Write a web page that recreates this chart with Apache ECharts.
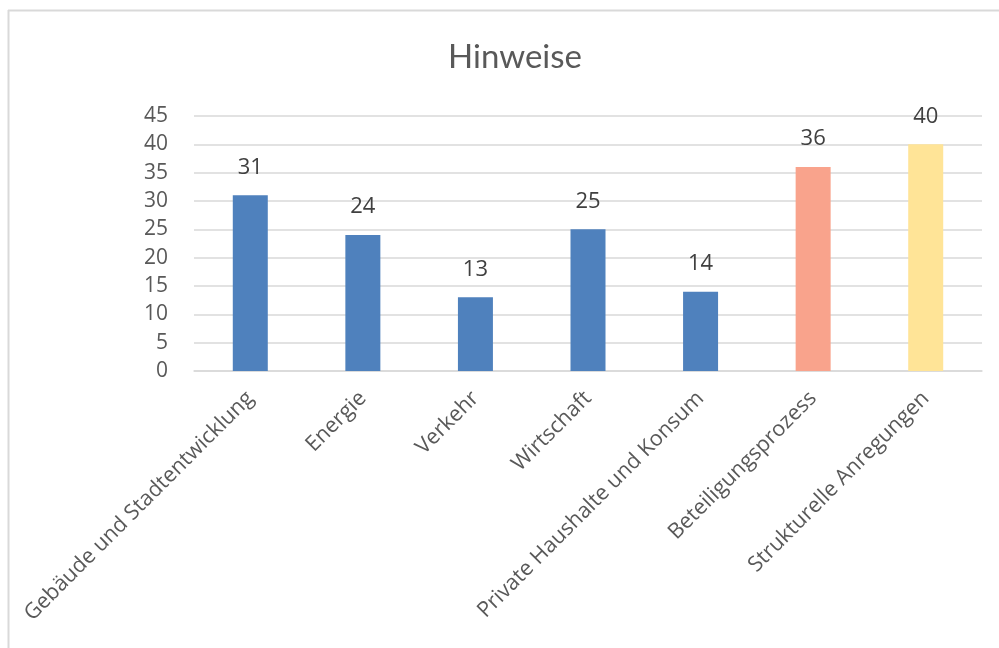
<!DOCTYPE html>
<html><head><meta charset="utf-8">
<script src="https://cdn.jsdelivr.net/npm/echarts@6/dist/echarts.min.js"></script>
<style>html,body{margin:0;padding:0;background:#fff}#c{width:999px;height:648px}</style>
</head><body><div id="c"></div>
<script>
var categories = ["Gebäude und Stadtentwicklung","Energie","Verkehr","Wirtschaft","Private Haushalte und Konsum","Beteiligungsprozess","Strukturelle Anregungen"];
var values = [31,24,13,25,14,36,40];
var barColors = ["#4F81BD","#4F81BD","#4F81BD","#4F81BD","#4F81BD","#F9A38C","#FFE497"];
var titleText = "Hinweise";
var yMin = 0, yMax = 45, yStep = 5;

var font = "Open Sans";
var chart = echarts.init(document.getElementById('c'), null, {renderer:'canvas'});
chart.setOption({
  animation:false,
  backgroundColor:'#fff',
  title:{text:titleText,left:510,textAlign:'center',top:36,textStyle:{fontFamily:'Lato',fontSize:33,fontWeight:'normal',color:'#595959'}},
  graphic:[
    {type:'line',shape:{x1:8.5,y1:10,x2:8.5,y2:648},style:{stroke:'#D9D9D9',lineWidth:2}},
    {type:'line',shape:{x1:8,y1:10.5,x2:999,y2:10.5},style:{stroke:'#D9D9D9',lineWidth:2}}
  ],
  grid:{left:194,right:17,top:116,bottom:277,containLabel:false},
  xAxis:{type:'category',data:categories,
    axisLine:{lineStyle:{color:'#D9D9D9',width:1.5}},axisTick:{show:false},
    axisLabel:{rotate:45,margin:24,interval:0,fontFamily:font,fontSize:21.5,color:'#595959'}},
  yAxis:{type:'value',min:yMin,max:yMax,interval:yStep,
    axisLine:{show:false},axisTick:{show:false},
    splitLine:{lineStyle:{color:'#D9D9D9',width:1.5}},
    axisLabel:{margin:26,fontFamily:font,fontSize:21,color:'#595959'}},
  series:[{type:'bar',barWidth:35,
    data:values.map(function(v,i){return {value:v,itemStyle:{color:barColors[i]}};}),
    label:{show:true,position:'top',distance:17,fontFamily:font,fontSize:22,color:'#404040'}}]
});
</script></body></html>
